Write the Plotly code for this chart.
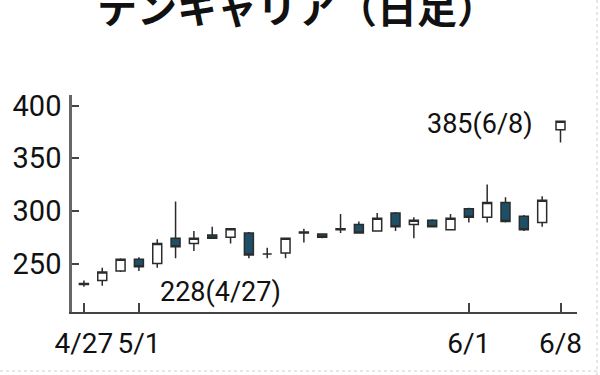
import plotly.graph_objects as go

dates = ["4/27", "4/28", "4/30", "5/1", "5/7", "5/8", "5/11", "5/12", "5/13", "5/14",
         "5/15", "5/18", "5/19", "5/20", "5/21", "5/22", "5/25", "5/26", "5/27", "5/28",
         "5/29", "6/1", "6/2", "6/3", "6/4", "6/5", "6/8"]
opens  = [230, 234, 243, 254, 250, 274, 269, 277, 275, 279, 259, 260, 279, 278, 282, 287,
          281, 298, 287, 291, 282, 302, 294, 308, 295, 289, 377]
highs  = [234, 246, 255, 256, 273, 309, 281, 285, 283, 280, 265, 274, 283, 278, 297, 290,
          298, 299, 294, 292, 297, 303, 325, 313, 296, 314, 385]
lows   = [228, 229, 242, 243, 246, 255, 262, 274, 269, 255, 255, 255, 270, 274, 279, 279,
          281, 281, 274, 285, 282, 289, 289, 289, 281, 285, 365]
closes = [231, 242, 254, 247, 269, 266, 274, 274, 283, 258, 259, 274, 280, 275, 283, 279,
          293, 285, 291, 285, 293, 294, 308, 290, 282, 310, 385]

tick_dates = ["4/27", "5/1", "6/1", "6/8"]
y_ticks = [250, 300, 350, 400]
title_text = "テンキャリア（日足）"
low_label = "228(4/27)"
high_label = "385(6/8)"

NUM_FONT = "Roboto, Liberation Sans, sans-serif"
EDGE = "#2b2b2b"
TEAL = "#1d5068"

fig = go.Figure(go.Candlestick(
    x=dates, open=opens, high=highs, low=lows, close=closes,
    increasing=dict(line=dict(color=EDGE, width=1.5), fillcolor="white"),
    decreasing=dict(line=dict(color=EDGE, width=1.5), fillcolor=TEAL),
    whiskerwidth=0, hoverinfo="skip", showlegend=False,
))

fig.update_layout(
    width=600, height=375,
    margin=dict(l=72, r=23, t=95, b=63),
    paper_bgcolor="white", plot_bgcolor="white",
    showlegend=False,
    xaxis=dict(
        type="category", range=[-0.65, 26.9],
        tickmode="array", tickvals=tick_dates, ticktext=tick_dates,
        tickangle=0, automargin=False,
        ticks="inside", ticklen=9, tickwidth=1.5, tickcolor="#444",
        showline=True, linecolor="#444", linewidth=2,
        showgrid=False, zeroline=False,
        rangeslider=dict(visible=False),
        tickfont=dict(family=NUM_FONT, size=28, color="#111"),
        ticklabelstandoff=5,
    ),
    yaxis=dict(
        range=[204, 410], automargin=False,
        tickmode="array", tickvals=y_ticks,
        ticks="inside", ticklen=7, tickwidth=1.5, tickcolor="#444",
        showline=True, linecolor="#666", linewidth=2.5,
        showgrid=False, zeroline=False,
        tickfont=dict(family=NUM_FONT, size=29, color="#111"),
        ticklabelstandoff=2,
    ),
    annotations=[
        dict(text=title_text, xref="paper", yref="paper",
             x=(297 - 72) / 505, y=1 + (95 - 6) / 217,
             xanchor="center", yanchor="middle", showarrow=False,
             font=dict(family="Noto Sans CJK JP", size=40, color="#111", weight="bold")),
        dict(text=low_label, xref="x", yref="y", x=dates[7], y=228,
             xanchor="center", yanchor="middle", showarrow=False, xshift=8, yshift=-5,
             font=dict(family=NUM_FONT, size=27, color="#111")),
        dict(text=high_label, xref="x", yref="y", x=dates[21], y=385,
             xanchor="center", yanchor="middle", showarrow=False, xshift=11, yshift=-3,
             font=dict(family=NUM_FONT, size=27, color="#111")),
    ],
    shapes=[
        dict(type="line", xref="paper", yref="paper",
             x0=(597 - 72) / 505, x1=(597 - 72) / 505, y0=-63 / 217, y1=1 + 95 / 217,
             line=dict(color="#cfcfcf", width=1, dash="dot")),
        dict(type="line", xref="paper", yref="paper",
             x0=-72 / 505, x1=1 + 23 / 505, y0=-(371 - 312) / 217, y1=-(371 - 312) / 217,
             line=dict(color="#cfcfcf", width=1, dash="dot")),
    ],
)

fig.write_html("out.html")
